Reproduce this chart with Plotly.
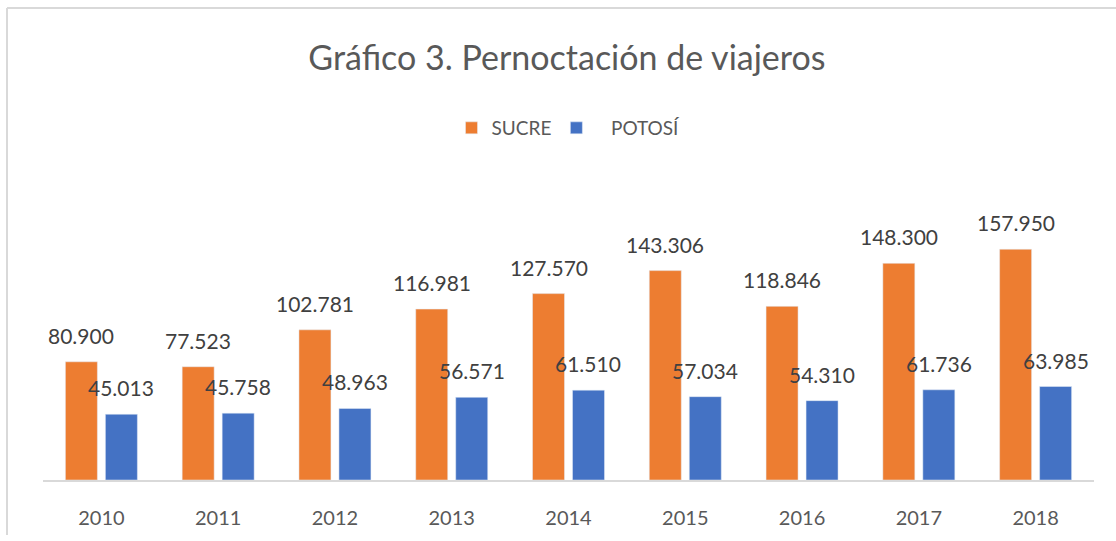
import plotly.graph_objects as go

years = ["2010", "2011", "2012", "2013", "2014", "2015", "2016", "2017", "2018"]
sucre = [80900, 77523, 102781, 116981, 127570, 143306, 118846, 148300, 157950]
potosi = [45013, 45758, 48963, 56571, 61510, 57034, 54310, 61736, 63985]

ORANGE = "#ED7D31"
BLUE = "#4472C4"
FONT = "Lato"

def fmt(v):
    return f"{v:,}".replace(",", ".")

fig = go.Figure()
fig.add_trace(go.Bar(x=years, y=sucre, name="SUCRE", marker_color=ORANGE))
fig.add_trace(go.Bar(x=years, y=potosi, name="\u00a0\u00a0\u00a0POTOSÍ", marker_color=BLUE))

W, H = 1116, 541
L, R, T, B = 43, 22, 217, 56
pw = W - L - R
ph = H - T - B

annotations = []
off = 0.171
lab_font = dict(family=FONT, size=21, color="#404040")
for i, (s, p) in enumerate(zip(sucre, potosi)):
    annotations.append(dict(x=i - off, y=s, xref="x", yref="y", text=fmt(s),
                            showarrow=False, yanchor="bottom", yshift=12, font=lab_font))
    annotations.append(dict(x=i + off, y=p, xref="x", yref="y", text=fmt(p),
                            showarrow=False, yanchor="bottom", yshift=12, font=lab_font))

top_y = (H - B - 4) / ph
left_x = (7 - L) / pw
shapes = [
    dict(type="line", xref="paper", yref="paper",
         x0=left_x, x1=(W - L) / pw, y0=top_y, y1=top_y,
         line=dict(color="#d9d9d9", width=2)),
    dict(type="line", xref="paper", yref="paper",
         x0=left_x, x1=left_x, y0=top_y, y1=(H - B - H) / ph,
         line=dict(color="#d9d9d9", width=2)),
]

fig.update_layout(
    width=W, height=H,
    margin=dict(l=L, r=R, t=T, b=B),
    paper_bgcolor="white", plot_bgcolor="white",
    barmode="group", bargap=0.315, bargroupgap=0.2,
    title=dict(text="Gráfico 3. Pernoctación de viajeros", x=0.508, xanchor="center",
               y=1 - 58 / H, yanchor="middle",
               font=dict(family=FONT, size=34, color="#595959")),
    legend=dict(orientation="h", x=0.5, xanchor="center", y=1 - 128 / H,
                yanchor="middle", yref="container",
                font=dict(family=FONT, size=19, color="#595959"),
                tracegroupgap=0),
    xaxis=dict(showline=True, linecolor="#d9d9d9", linewidth=2,
               ticks="outside", ticklen=19, tickcolor="rgba(0,0,0,0)",
               tickfont=dict(family=FONT, size=20, color="#595959"),
               showgrid=False, fixedrange=True),
    yaxis=dict(range=[0, 180000], visible=False, showgrid=False, fixedrange=True),
    annotations=annotations,
    shapes=shapes,
    showlegend=True,
)

fig.write_html("out.html", config={"displayModeBar": False},
               post_script="document.body.style.margin='0';")
